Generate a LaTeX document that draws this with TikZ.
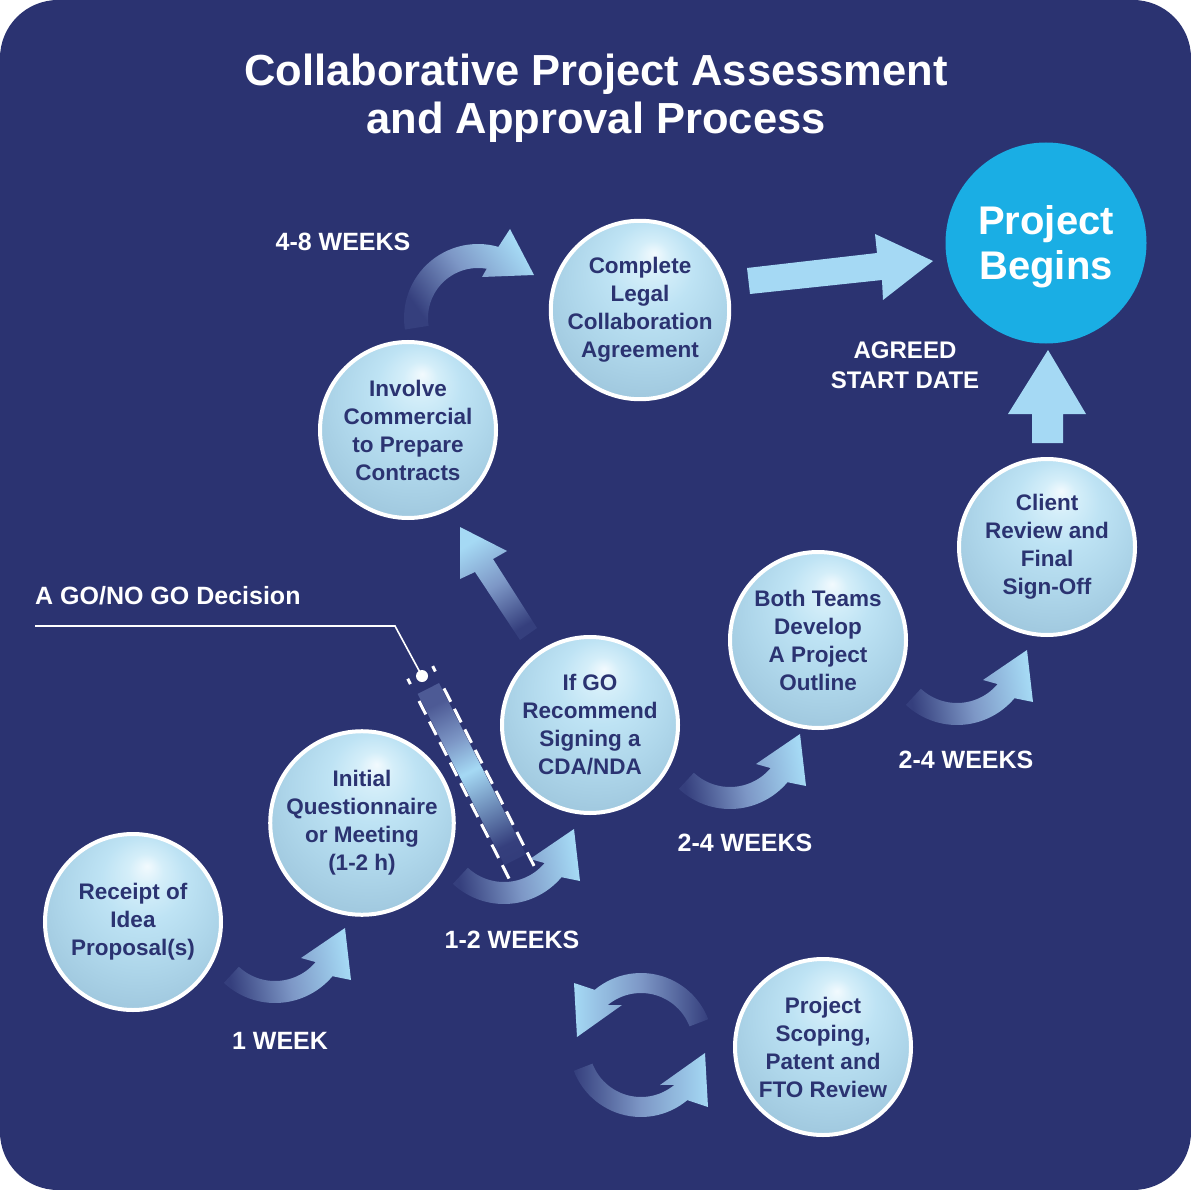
\documentclass[tikz,border=0pt]{standalone}
\usepackage{fontspec}
\setmainfont{Liberation Sans}
\usetikzlibrary{calc}
\definecolor{bgnavy}{HTML}{2B3371}
\definecolor{txtnavy}{HTML}{2B3371}
\definecolor{arrlight}{HTML}{A5D9F4}
\definecolor{arrmid}{HTML}{7D97C6}
\definecolor{arrdark}{HTML}{353F7D}
\definecolor{bartop}{HTML}{4D5A95}
\definecolor{pbblue}{HTML}{1AAEE4}
\definecolor{bubA}{HTML}{F2FAFE}
\definecolor{bubB}{HTML}{D4EEF9}
\definecolor{bubC}{HTML}{BEE3F4}
\definecolor{bubD}{HTML}{AED6EA}
\definecolor{bubE}{HTML}{A2CAE0}
\definecolor{bubF}{HTML}{98C0D6}
\definecolor{bubG}{HTML}{8FB6CD}
\pgfdeclareradialshading{bubble}{\pgfpoint{4bp}{16bp}}{color(0bp)=(bubA); color(5bp)=(bubB); color(12bp)=(bubC); color(22bp)=(bubD); color(30bp)=(bubE); color(38bp)=(bubF); color(41bp)=(bubG); color(50bp)=(bubG)}
\pgfdeclareverticalshading{barshade}{100bp}{color(0bp)=(bgnavy); color(25bp)=(arrdark); color(51bp)=(arrlight); color(62bp)=(arrmid); color(75bp)=(bartop); color(100bp)=(bartop)}
\newcommand\weekarrow{\shade[bandshade=-80] plot[domain=133:40,samples=30] ({275+75*cos(\x)},{928+75*sin(\x)}) -- (351,980) -- (345,928) -- (301,958) -- plot[domain=40:133,samples=30] ({275+53*cos(\x)},{928+53*sin(\x)}) -- cycle;}
\tikzset{
  bubble/.style={circle, draw=white, line width=4pt, shade, shading=bubble, minimum size=176pt, inner sep=0pt, align=center, text=txtnavy, font=\bfseries\fontsize{22.5}{28}\selectfont},
  beginsnode/.style={circle, fill=pbblue, minimum size=201pt, inner sep=0pt, align=center, text=white, font=\bfseries\fontsize{40}{45}\selectfont},
  lbl/.style={text=white, font=\bfseries\fontsize{25}{30}\selectfont, align=center, inner sep=0pt},
  lblsmall/.style={text=white, font=\bfseries\fontsize{24}{30}\selectfont, align=center, inner sep=0pt},
  titlestyle/.style={text=white, font=\bfseries\fontsize{43.5}{48}\selectfont, align=center, inner sep=0pt},
  bandshade/.style={top color=arrlight, bottom color=arrdark, middle color=arrmid, shading angle=#1},
  dashside/.style={white, line width=3pt, dash pattern=on 15pt off 8pt},
  solidarrow/.style={fill=arrlight},
}
\begin{document}
\begin{tikzpicture}[x=1pt,y=-1pt]
\useasboundingbox (0,0) rectangle (1191,1190);
\fill[white] (0,0) rectangle (1191,1190);
\fill[bgnavy, rounded corners=58pt] (0,0) rectangle (1191,1190);

% title
\node[titlestyle] (title) at (596,98) {Collaborative Project Assessment\\and Approval Process};

% week arrows (same shape, translated)
\weekarrow
\begin{scope}[shift={(229,-99)}]
  \weekarrow
\end{scope}
\begin{scope}[shift={(455,-194)}]
  \weekarrow
\end{scope}
\begin{scope}[shift={(682,-278)}]
  \weekarrow
\end{scope}

% 4-8 weeks arrow
\shade[bandshade=-54] plot[domain=171:286,samples=30] ({478+74*cos(\x)},{318+74*sin(\x)}) -- (510,229) -- (534,275) -- (482,277) -- plot[domain=280:171,samples=30] ({478+50*cos(\x)},{318+50*sin(\x)}) -- cycle;

% straight arrow If GO -> Involve
\shade[bandshade=31.7] (520,640) -- (475,572) -- (460,579) -- (460,527) -- (507,551) -- (493,559) -- (537,628) -- cycle;

% rotating arrows
\shade[bandshade=-90] plot[domain=159:50,samples=30] ({641+72*cos(\x)},{1045+72*sin(\x)}) -- (708,1107) -- (705,1053) -- (660,1085) -- plot[domain=50:159,samples=30] ({641+52*cos(\x)},{1045+52*sin(\x)}) -- cycle;
\shade[bandshade=90] plot[domain=339:230,samples=30] ({641+72*cos(\x)},{1045+72*sin(\x)}) -- (574,983) -- (577,1037) -- (622,1005) -- plot[domain=230:339,samples=30] ({641+52*cos(\x)},{1045+52*sin(\x)}) -- cycle;

% solid arrows
\fill[solidarrow] (747,268) -- (877,253) -- (875,234) -- (933,261) -- (883,300) -- (882,280) -- (750,294) -- cycle;
\fill[solidarrow] (1032,443) -- (1032,414) -- (1008,414) -- (1048,350) -- (1086,414) -- (1063,414) -- (1063,443) -- cycle;

% bubbles
\node[bubble] (receipt) at (133,922) {Receipt of\\Idea\\Proposal(s)};
\node[bubble] (initial) at (362,823) {Initial\\Questionnaire\\or Meeting\\(1-2 h)};
\node[bubble] (ifgo) at (590,725) {If GO\\Recommend\\Signing a\\CDA/NDA};
\node[bubble] (both) at (818,640) {Both Teams\\Develop\\A Project\\Outline};
\node[bubble] (client) at (1047,547) {Client\\Review and\\Final\\Sign-Off};
\node[bubble] (involve) at (408,430) {Involve\\Commercial\\to Prepare\\Contracts};
\node[bubble] (legal) at (640,310) {Complete\\Legal\\Collaboration\\Agreement};
\node[bubble] (scoping) at (823,1047) {Project\\Scoping,\\Patent and\\FTO Review};
\node[beginsnode] (begins) at (1046,243) {};
\node[text=white, font=\bfseries\fontsize{40}{45}\selectfont, align=center, inner sep=0pt] (beginstext) at (1046,247) {Project\\Begins};

% GO / NO GO bar
\begin{scope}[shift={(422,676)}, rotate=-63.1]
  \shade[shading=barshade, shading angle=26.9] (14,-12) rectangle (206,12);
  \draw[dashside] (21,14) -- (222,14);
  \draw[dashside] (21,-14) -- (222,-14);
  \draw[white, line width=3pt] (-4,14) -- (2,14);
  \draw[white, line width=3pt] (-4,-14) -- (2,-14);
\end{scope}
\coordinate (godot) at (422,676);
\coordinate (golinestart) at (35,626);
\coordinate (golinebend) at (395,626);
\draw[white, line width=1.6pt] (golinestart) -- (golinebend) -- (godot);
\fill[white] (godot) circle[radius=6pt];

% labels
\node[lbl, anchor=west] (gonogo) at (35,596) {A GO/NO GO Decision};
\node[lbl] (w48) at (343,242) {4-8 WEEKS};
\node[lbl] (w1) at (280,1041) {1 WEEK};
\node[lbl] (w12) at (512,940) {1-2 WEEKS};
\node[lbl] (w24a) at (745,843) {2-4 WEEKS};
\node[lbl] (w24b) at (966,760) {2-4 WEEKS};
\node[lblsmall] (agreed) at (905,365) {AGREED\\START DATE};
\end{tikzpicture}
\end{document}
